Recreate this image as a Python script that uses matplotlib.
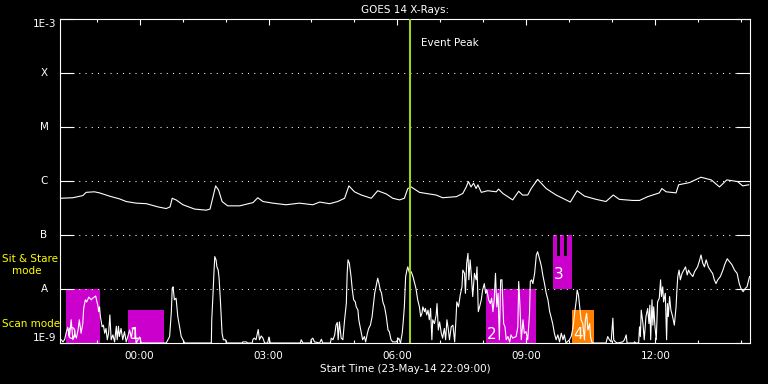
import matplotlib
matplotlib.use("Agg")
import matplotlib.pyplot as plt
from matplotlib.ticker import FixedLocator, NullLocator, NullFormatter

# (hours from 00:00 24-May-14, log10 flux in W/m^2)
long_channel = [
    (-1.84, -6.32), (-1.55, -6.31), (-1.32, -6.27), (-1.24, -6.21), (-1.05, -6.20),
    (-0.93, -6.22), (-0.70, -6.28), (-0.47, -6.33), (-0.31, -6.38), (-0.08, -6.41),
    (0.16, -6.42), (0.43, -6.48), (0.62, -6.51), (0.71, -6.48), (0.76, -6.32),
    (0.85, -6.35), (1.01, -6.44), (1.28, -6.52), (1.55, -6.54), (1.64, -6.52),
    (1.71, -6.29), (1.77, -6.09), (1.84, -6.17), (1.92, -6.38), (2.05, -6.46),
    (2.33, -6.46), (2.64, -6.40), (2.75, -6.31), (2.87, -6.38), (3.10, -6.41),
    (3.41, -6.44), (3.72, -6.41), (4.03, -6.44), (4.19, -6.39), (4.42, -6.42),
    (4.61, -6.38), (4.77, -6.32), (4.87, -6.09), (5.00, -6.20), (5.16, -6.26),
    (5.39, -6.32), (5.54, -6.18), (5.74, -6.24), (5.89, -6.32), (6.05, -6.35),
    (6.16, -6.32), (6.24, -6.14), (6.32, -6.11), (6.51, -6.21), (6.74, -6.24),
    (6.90, -6.26), (7.05, -6.31), (7.37, -6.29), (7.52, -6.23), (7.60, -6.11),
    (7.65, -6.01), (7.71, -6.11), (7.77, -6.04), (7.83, -6.14), (7.87, -6.07),
    (7.95, -6.21), (8.10, -6.18), (8.30, -6.20), (8.35, -6.15), (8.45, -6.23),
    (8.68, -6.35), (8.82, -6.19), (8.91, -6.26), (9.03, -6.26), (9.11, -6.14),
    (9.26, -5.97), (9.46, -6.14), (9.69, -6.26), (9.92, -6.35), (10.02, -6.39),
    (10.18, -6.18), (10.35, -6.28), (10.62, -6.34), (10.85, -6.38), (11.02, -6.26),
    (11.16, -6.34), (11.47, -6.36), (11.63, -6.36), (11.82, -6.29), (12.09, -6.22),
    (12.15, -6.14), (12.25, -6.20), (12.48, -6.22), (12.54, -6.07), (12.79, -6.03),
    (13.06, -5.93), (13.30, -5.98), (13.49, -6.11), (13.66, -5.98), (13.91, -6.01),
    (14.03, -6.09), (14.17, -6.07),
]

short_channel = [
    (-1.82, -8.94), (-1.78, -8.98), (-1.74, -8.93), (-1.71, -8.82), (-1.67, -8.71),
    (-1.63, -8.88), (-1.59, -8.57), (-1.55, -8.94), (-1.51, -8.83), (-1.47, -8.91),
    (-1.43, -8.76), (-1.40, -8.57), (-1.36, -8.82), (-1.32, -8.64), (-1.30, -8.36),
    (-1.26, -8.20), (-1.23, -8.24), (-1.18, -8.15), (-1.12, -8.20), (-1.09, -8.17),
    (-1.02, -8.13), (-0.99, -8.24), (-0.97, -8.30), (-0.95, -8.42), (-0.93, -8.33),
    (-0.91, -8.51), (-0.87, -8.70), (-0.84, -8.67), (-0.81, -8.82), (-0.78, -8.73),
    (-0.75, -8.94), (-0.72, -8.82), (-0.69, -8.48), (-0.66, -8.94), (-0.62, -8.85),
    (-0.58, -8.98), (-0.54, -8.69), (-0.52, -8.94), (-0.49, -8.69), (-0.47, -8.88),
    (-0.43, -8.73), (-0.39, -8.94), (-0.35, -8.79), (-0.31, -8.98), (-0.23, -8.76),
    (-0.19, -8.91), (-0.16, -8.75), (-0.10, -8.71), (-0.08, -9.00), (0.00, -8.89),
    (0.04, -9.00), (0.62, -9.00), (0.66, -8.94), (0.70, -8.88), (0.74, -8.42),
    (0.76, -7.99), (0.78, -7.96), (0.81, -8.20), (0.85, -8.17), (0.89, -8.51),
    (0.93, -8.70), (0.97, -8.88), (1.01, -8.94), (1.05, -9.00),
    (1.67, -9.00), (1.68, -8.57), (1.71, -8.08), (1.73, -7.71), (1.75, -7.40),
    (1.78, -7.46), (1.80, -7.59), (1.83, -7.65), (1.85, -7.80), (1.88, -8.20),
    (1.90, -8.51), (1.92, -8.82), (1.95, -8.94), (2.00, -8.94), (2.02, -9.00),
    (2.39, -9.00), (2.40, -8.98), (2.48, -8.98), (2.52, -9.00), (2.62, -9.00),
    (2.64, -8.93), (2.67, -8.91), (2.71, -8.94), (2.74, -8.82), (2.76, -8.75),
    (2.79, -8.94), (2.83, -8.87), (2.87, -8.91), (2.91, -9.00), (2.98, -9.00),
    (3.01, -8.89), (3.04, -9.00), (3.74, -9.00), (3.76, -8.94), (3.80, -9.00),
    (3.98, -9.00), (3.99, -8.94), (4.03, -8.91), (4.07, -8.98), (4.19, -9.00),
    (4.23, -8.93), (4.26, -9.00), (4.44, -9.00), (4.46, -8.91), (4.50, -8.94),
    (4.54, -8.85), (4.57, -8.67), (4.60, -8.62), (4.62, -8.94),
    (4.65, -8.61), (4.69, -8.91), (4.73, -8.94), (4.77, -8.57), (4.81, -8.27),
    (4.83, -7.71), (4.85, -7.46), (4.88, -7.52), (4.92, -7.77), (4.95, -8.02),
    (4.98, -8.20), (5.02, -8.24), (5.04, -8.33), (5.08, -8.39), (5.10, -8.57),
    (5.13, -8.70), (5.16, -8.82), (5.19, -8.94), (5.23, -8.88), (5.26, -8.98),
    (5.30, -8.82), (5.33, -8.73), (5.37, -8.67), (5.41, -8.51), (5.44, -8.30),
    (5.47, -8.08), (5.50, -7.96), (5.54, -7.80), (5.57, -7.90), (5.60, -8.02),
    (5.63, -8.08), (5.66, -8.24), (5.70, -8.33), (5.74, -8.51), (5.78, -8.76),
    (5.81, -8.79), (5.85, -8.94), (5.89, -8.98), (5.97, -8.98), (6.03, -8.91),
    (6.07, -9.00), (6.11, -8.82), (6.13, -8.64), (6.16, -8.33), (6.19, -7.77),
    (6.22, -7.65), (6.24, -7.59), (6.28, -7.71), (6.32, -7.68), (6.36, -7.77),
    (6.40, -7.90), (6.43, -7.99), (6.47, -8.20), (6.51, -8.33), (6.54, -8.51),
    (6.57, -8.45), (6.59, -8.33), (6.63, -8.42), (6.65, -8.36), (6.68, -8.48),
    (6.71, -8.39), (6.74, -8.57), (6.77, -8.36), (6.80, -8.94), (6.82, -8.57),
    (6.86, -8.64), (6.90, -8.48), (6.92, -8.27), (6.95, -8.76), (6.98, -8.61),
    (7.02, -8.82), (7.05, -8.91), (7.09, -8.73), (7.12, -8.94), (7.15, -8.57),
    (7.18, -8.73), (7.21, -8.94), (7.25, -8.70), (7.29, -8.67), (7.33, -8.98),
    (7.36, -8.57), (7.38, -8.24), (7.42, -8.33), (7.46, -8.11), (7.50, -7.96),
    (7.52, -7.65), (7.56, -7.71), (7.58, -8.08), (7.61, -7.52), (7.64, -7.34),
    (7.66, -7.83), (7.69, -7.46), (7.72, -7.77), (7.75, -8.14), (7.79, -7.71),
    (7.83, -7.83), (7.85, -7.59), (7.88, -8.42),
    (7.91, -8.33), (7.95, -8.20), (7.98, -8.02), (8.02, -7.90), (8.05, -8.08),
    (8.08, -8.02), (8.12, -8.20), (8.16, -8.27), (8.19, -8.17), (8.22, -8.42),
    (8.25, -8.20), (8.28, -7.71), (8.31, -8.33), (8.34, -8.08), (8.37, -8.94),
    (8.40, -7.83), (8.43, -7.83), (8.47, -8.64), (8.50, -8.70), (8.53, -8.94),
    (8.57, -8.88), (8.61, -8.98), (8.64, -8.85), (8.68, -8.91), (8.76, -8.88),
    (8.80, -8.70), (8.82, -7.86), (8.85, -8.33), (8.88, -8.94), (8.92, -8.57),
    (8.95, -8.82), (8.99, -8.79), (9.03, -8.94), (9.07, -8.48), (9.09, -7.86),
    (9.12, -7.83), (9.15, -7.90), (9.19, -7.71), (9.23, -7.37), (9.26, -7.31),
    (9.29, -7.40), (9.32, -7.49), (9.35, -7.59), (9.38, -7.74), (9.42, -7.90),
    (9.46, -8.08), (9.50, -8.20), (9.54, -8.42), (9.57, -8.51), (9.61, -8.64),
    (9.65, -8.82), (9.69, -8.94), (9.73, -8.85), (9.77, -8.98), (9.81, -8.82),
    (9.85, -8.94), (9.88, -8.85), (9.92, -9.00), (10.00, -8.94), (10.04, -8.88),
    (10.08, -8.73), (10.12, -8.45), (10.16, -8.20), (10.18, -8.02), (10.21, -8.11),
    (10.23, -8.27), (10.27, -8.57), (10.31, -8.64), (10.35, -8.94), (10.37, -8.57),
    (10.40, -8.45), (10.43, -8.76), (10.47, -8.64), (10.49, -8.88), (10.52, -8.98),
    (10.54, -9.00), (10.85, -9.00), (10.89, -8.88), (10.93, -8.94), (10.97, -8.98),
    (11.01, -8.54), (11.03, -8.94), (11.07, -8.98),
    (11.12, -9.00), (11.24, -8.98), (11.28, -8.94), (11.32, -8.85), (11.34, -9.00),
    (11.50, -9.00), (11.51, -8.98), (11.55, -9.00), (11.61, -9.00), (11.63, -8.70),
    (11.65, -8.88), (11.67, -8.39), (11.71, -8.64), (11.74, -8.94), (11.78, -8.51),
    (11.82, -8.36), (11.85, -8.64), (11.87, -8.30), (11.89, -8.94), (11.92, -8.20),
    (11.94, -8.67), (11.96, -8.33), (11.99, -8.70), (12.02, -8.94), (12.05, -8.24),
    (12.09, -8.17), (12.12, -7.83), (12.14, -8.14), (12.17, -7.96), (12.19, -8.24),
    (12.23, -8.08), (12.26, -8.94), (12.28, -8.27), (12.30, -8.51), (12.33, -8.14),
    (12.36, -8.39), (12.40, -8.51), (12.44, -8.67), (12.48, -8.33), (12.50, -8.02),
    (12.52, -7.77), (12.55, -7.65), (12.58, -7.83), (12.62, -7.71), (12.66, -7.65),
    (12.70, -7.59), (12.74, -7.74), (12.77, -7.65), (12.81, -7.71), (12.87, -7.77),
    (12.91, -7.68), (12.98, -7.59), (13.02, -7.49), (13.06, -7.37), (13.10, -7.52),
    (13.14, -7.59), (13.18, -7.46), (13.23, -7.59), (13.30, -7.68), (13.33, -7.71),
    (13.37, -7.83), (13.41, -7.90), (13.45, -7.83), (13.51, -7.77), (13.57, -7.65),
    (13.61, -7.55), (13.67, -7.44), (13.72, -7.49), (13.78, -7.55), (13.84, -7.65),
    (13.90, -7.71), (13.95, -7.90), (13.99, -7.99), (14.04, -8.05), (14.09, -7.99),
    (14.13, -7.96), (14.19, -7.77),
]

class_levels = [1e-9, 1e-8, 1e-7, 1e-6, 1e-5, 1e-4, 1e-3]
class_labels = ["1E-9", "A", "B", "C", "M", "X", "1E-3"]

hour_ticks = [0, 3, 6, 9, 12]
hour_labels = ["00:00", "03:00", "06:00", "09:00", "12:00"]
hour_minor = list(range(-1, 15))

event_peak_hr = 6.28

# observation boxes (0-3 magenta, 4 orange)
box_start = [-1.72, -0.26, 8.05, 9.61, 10.05]
box_end = [-0.91, 0.56, 9.23, 10.07, 10.58]
box_low = [1e-9, 1e-9, 1e-9, 1e-8, 1e-9]
box_high = [1e-8, 4.1e-9, 1e-8, 1e-7, 4.1e-9]
box_colors = ["#cc00cc", "#cc00cc", "#cc00cc", "#cc00cc", "#ff8000"]
box_names = ["0", "1", "2", "3", "4"]

# dark gaps cut into box 3
gap_start = [9.70, 9.88]
gap_end = [9.77, 9.95]
gap_low = 4.1e-8
gap_high = 1e-7

fig = plt.figure(figsize=(7.68, 3.84), dpi=100, facecolor="black")
ax = fig.add_axes([60 / 768, 41 / 384, 690 / 768, 324 / 384])
ax.set_facecolor("black")

for s, e, lo, hi, c in zip(box_start, box_end, box_low, box_high, box_colors):
    ax.fill_between([s, e], lo, hi, color=c, lw=0, zorder=1, antialiased=False)
for s, e in zip(gap_start, gap_end):
    ax.fill_between([s, e], gap_low, gap_high, color="black", lw=0, zorder=1.5,
                    antialiased=False)

for lvl in class_levels[1:-1]:
    ax.axhline(lvl, color="white", lw=0.75, ls=(0, (1, 5)), zorder=1.8)

lt, lf = zip(*long_channel)
st, sf = zip(*short_channel)
ax.plot(lt, [10 ** v for v in lf], color="white", lw=0.8, zorder=2)
ax.plot(st, [10 ** v for v in sf], color="white", lw=0.8, zorder=2)

ax.axvline(event_peak_hr, color="#a0d020", lw=1.5, zorder=3)
ax.annotate("Event Peak", (event_peak_hr, 0.926), xycoords=("data", "axes fraction"),
            xytext=(8, 0), textcoords="offset points", ha="left", va="center",
            color="white", fontsize=7.5)

for s, lo, name in zip(box_start, box_low, box_names):
    dy = 3 if lo <= 1e-9 else 7.5
    ax.annotate(name, (s, lo), xytext=(1, dy), textcoords="offset points",
                ha="left", va="baseline", color="white", fontsize=11, zorder=4)

ax.set_yscale("log")
ax.set_ylim(1e-9, 1e-3)
ax.set_xlim(-1.85, 14.2)
ax.yaxis.set_major_locator(FixedLocator(class_levels))
ax.yaxis.set_minor_locator(NullLocator())
ax.yaxis.set_major_formatter(NullFormatter())
ax.tick_params(axis="y", direction="in", length=10, width=0.8, color="white",
               left=True, right=True, labelleft=False)

ax.set_xticks(hour_ticks)
ax.set_xticklabels(hour_labels)
ax.set_xticks(hour_minor, minor=True)
ax.tick_params(axis="x", which="major", direction="in", length=4.5, width=0.8,
               colors="white", top=True, bottom=True, labelsize=7.5, pad=6)
ax.tick_params(axis="x", which="minor", direction="in", length=2.2, width=0.8,
               color="white", top=True, bottom=True)

for sp in ax.spines.values():
    sp.set_color("white")
    sp.set_linewidth(0.8)

for lvl, lab in zip(class_levels, class_labels):
    if lab == "1E-3":
        ax.annotate(lab, (0, lvl), xycoords=("axes fraction", "data"), xytext=(-2.5, 0),
                    textcoords="offset points", ha="right", va="top", color="white", fontsize=7.5)
    elif lab == "1E-9":
        ax.annotate(lab, (0, lvl), xycoords=("axes fraction", "data"), xytext=(-2.5, 0),
                    textcoords="offset points", ha="right", va="bottom", color="white", fontsize=7.5)
    else:
        ax.annotate(lab, (0, lvl), xycoords=("axes fraction", "data"), xytext=(-11.5, 0),
                    textcoords="offset points", ha="center", va="center", color="white", fontsize=7.5)

ax.set_title("GOES 14 X-Rays:", color="white", fontsize=7.5, pad=4)
ax.set_xlabel("Start Time (23-May-14 22:09:00)", color="white", fontsize=7.5, labelpad=2)

fig.text(2 / 768, 1 - 259 / 384, "Sit & Stare", color="yellow", fontsize=7.5, va="center")
fig.text(12 / 768, 1 - 271 / 384, "mode", color="yellow", fontsize=7.5, va="center")
fig.text(2 / 768, 1 - 324 / 384, "Scan mode", color="yellow", fontsize=7.5, va="center")

fig.savefig("out.png", dpi=100, facecolor="black")
